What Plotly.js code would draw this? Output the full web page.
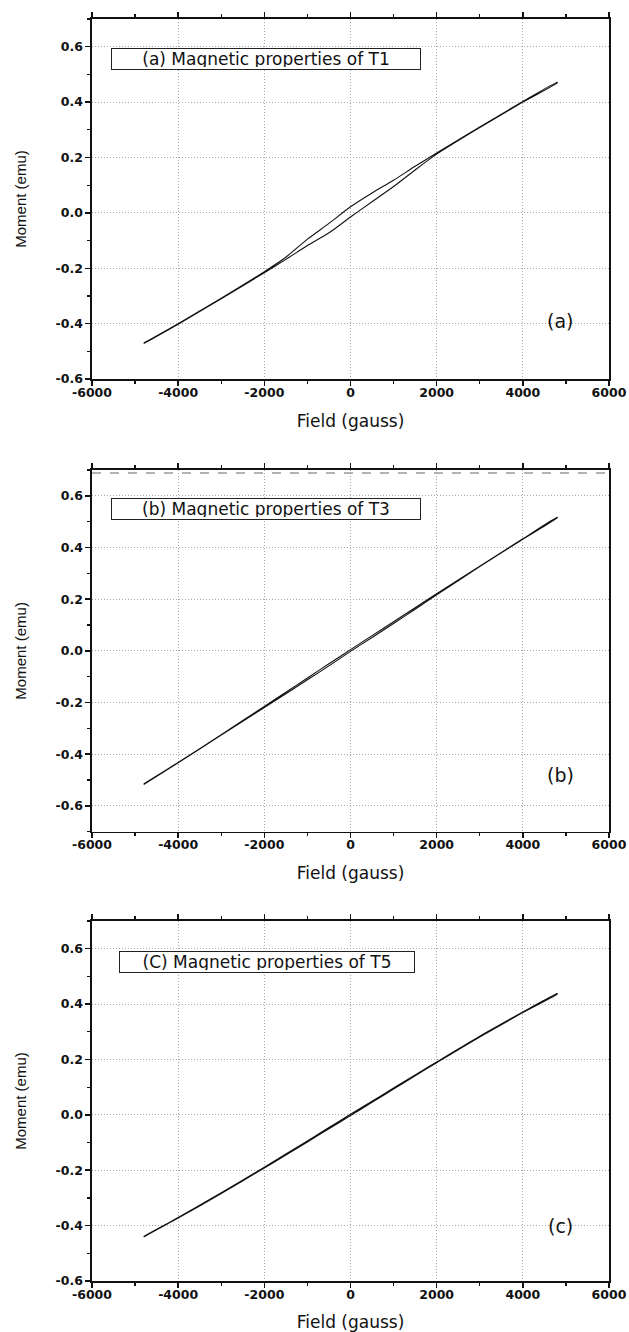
<!DOCTYPE html>
<html>
<head>
<meta charset="utf-8">
<script src="https://cdn.plot.ly/plotly-3.0.1.min.js"></script>
<style>html,body{margin:0;padding:0;background:#fff;}#chart{width:629px;height:1332px;}</style>
</head>
<body>
<div id="chart"></div>
<script>
// Field values (gauss) at which the loops were read
const field = [-4800,-4000,-3000,-2000,-1500,-1000,-500,0,500,1000,1500,2000,3000,4000,4800];

// T1: ascending (lower) and descending (upper) branches, moment (emu)
const t1Lower = [-0.472,-0.402,-0.310,-0.216,-0.168,-0.118,-0.072,-0.015,0.040,0.095,0.155,0.212,0.308,0.400,0.470];
const t1Upper = [-0.470,-0.400,-0.308,-0.212,-0.160,-0.095,-0.038,0.022,0.072,0.118,0.168,0.216,0.310,0.402,0.472];

// T3
const t3Lower = [-0.517,-0.433,-0.326,-0.219,-0.166,-0.112,-0.058,-0.002,0.052,0.106,0.161,0.217,0.326,0.432,0.515];
const t3Upper = [-0.515,-0.432,-0.324,-0.215,-0.160,-0.105,-0.050,0.005,0.059,0.113,0.167,0.221,0.328,0.434,0.517];

// T5
const t5Lower = [-0.441,-0.373,-0.284,-0.192,-0.145,-0.098,-0.050,-0.003,0.045,0.093,0.141,0.188,0.281,0.369,0.436];
const t5Upper = [-0.439,-0.371,-0.281,-0.189,-0.141,-0.094,-0.046,0.002,0.049,0.097,0.144,0.191,0.284,0.371,0.438];

// Tick labels (hyphen minus as in the original)
const xTickVals = [-6000,-4000,-2000,0,2000,4000,6000];
const xTickText = ['-6000','-4000','-2000','0','2000','4000','6000'];
const yTickVals = [-0.6,-0.4,-0.2,0,0.2,0.4,0.6];
const yTickText = ['-0.6','-0.4','-0.2','0.0','0.2','0.4','0.6'];

const boxTitles = ['(a) Magnetic properties of T1','(b) Magnetic properties of T3','(C) Magnetic properties of T5'];
const panelTags = ['(a)','(b)','(c)'];
const xTitle = 'Field (gauss)';
const yTitle = 'Moment (emu)';

function loop(lower, upper){
  return {
    x: field.concat(field.slice().reverse()),
    y: lower.concat(upper.slice().reverse())
  };
}

const series = [[t1Lower,t1Upper],[t3Lower,t3Upper],[t5Lower,t5Upper]];
const suffix = ['', '2', '3'];
const traces = series.map((s,i)=>{
  const l = loop(s[0], s[1]);
  return {x:l.x, y:l.y, type:'scatter', mode:'lines', line:{color:'#111', width:1.1, shape:'spline', smoothing:0.7},
          xaxis:'x'+suffix[i], yaxis:'y'+suffix[i], hoverinfo:'skip'};
});

const ink = '#111';
const gridCol = '#a8a8a8';
const tickFont = {family:'DejaVu Sans', size:12.5, color:ink, weight:'bold'};
function xAxis(anchor){
  return {
    anchor: anchor, domain:[0,1], range:[-6000,6000],
    tickmode:'array', tickvals:xTickVals, ticktext:xTickText,
    showline:true, linecolor:ink, linewidth:1.6, mirror:'ticks',
    ticks:'outside', ticklen:5, tickwidth:1.5, tickcolor:ink, ticklabelstandoff:-4,
    showgrid:true, gridcolor:gridCol, griddash:'1px,2px', gridwidth:1, zeroline:false,
    minor:{dtick:1000, tick0:0, ticks:'outside', ticklen:3, tickwidth:1.2, tickcolor:ink, showgrid:false},
    tickfont: tickFont,
    title:{text:xTitle, font:{family:'DejaVu Sans', size:17, color:ink}, standoff:16},
    automargin:false, fixedrange:true
  };
}
function yAxis(anchor, domain, range){
  return {
    anchor: anchor, domain: domain, range: range,
    tickmode:'array', tickvals:yTickVals, ticktext:yTickText,
    showline:true, linecolor:ink, linewidth:1.6, mirror:true,
    ticks:'outside', ticklen:5, tickwidth:1.5, tickcolor:ink,
    showgrid:true, gridcolor:gridCol, griddash:'1px,2px', gridwidth:1, zeroline:false,
    minor:{dtick:0.1, tick0:0, ticks:'outside', ticklen:3, tickwidth:1.2, tickcolor:ink, showgrid:false},
    tickfont: tickFont,
    title:{text:yTitle, font:{family:'Liberation Sans', size:15, color:ink}, standoff:25},
    automargin:false, fixedrange:true
  };
}

const boxX = [-5560, -5560, -5380];
const boxY = [0.556, 0.549, 0.552];
const boxW = [304, 304, 290];
const tagY = [-0.39, -0.482, -0.40];

const annotations = [];
for (let i=0;i<3;i++){
  annotations.push({
    xref:'x'+suffix[i], yref:'y'+suffix[i], x:boxX[i], y:boxY[i], xanchor:'left', yanchor:'middle',
    text:boxTitles[i], showarrow:false, bordercolor:'#222', borderwidth:1, borderpad:2,
    width:boxW[i], height:16, align:'center', bgcolor:'#fff',
    font:{family:'DejaVu Sans', size:17, color:ink}
  });
  annotations.push({
    xref:'x'+suffix[i], yref:'y'+suffix[i], x:4870, y:tagY[i], xanchor:'center', yanchor:'middle',
    text:panelTags[i], showarrow:false, font:{family:'DejaVu Sans', size:19, color:ink}
  });
}

const layout = {
  width:629, height:1332,
  margin:{l:92, r:20, t:19, b:51},
  paper_bgcolor:'#fff', plot_bgcolor:'#fff', showlegend:false,
  xaxis: xAxis('y'),
  yaxis: yAxis('x', [0.7147,1], [-0.6,0.7]),
  xaxis2: xAxis('y2'),
  yaxis2: yAxis('x2', [0.3560,0.6426], [-0.7,0.7]),
  xaxis3: xAxis('y3'),
  yaxis3: yAxis('x3', [0,0.2853], [-0.6,0.7]),
  annotations: annotations,
  shapes:[{type:'line', xref:'x2 domain', yref:'y2 domain', x0:0, x1:1, y0:0.992, y1:0.992,
           line:{color:'#999', width:1.5, dash:'dash'}}]
};

Plotly.newPlot('chart', traces, layout, {displayModeBar:false, staticPlot:true});
</script>
</body>
</html>
